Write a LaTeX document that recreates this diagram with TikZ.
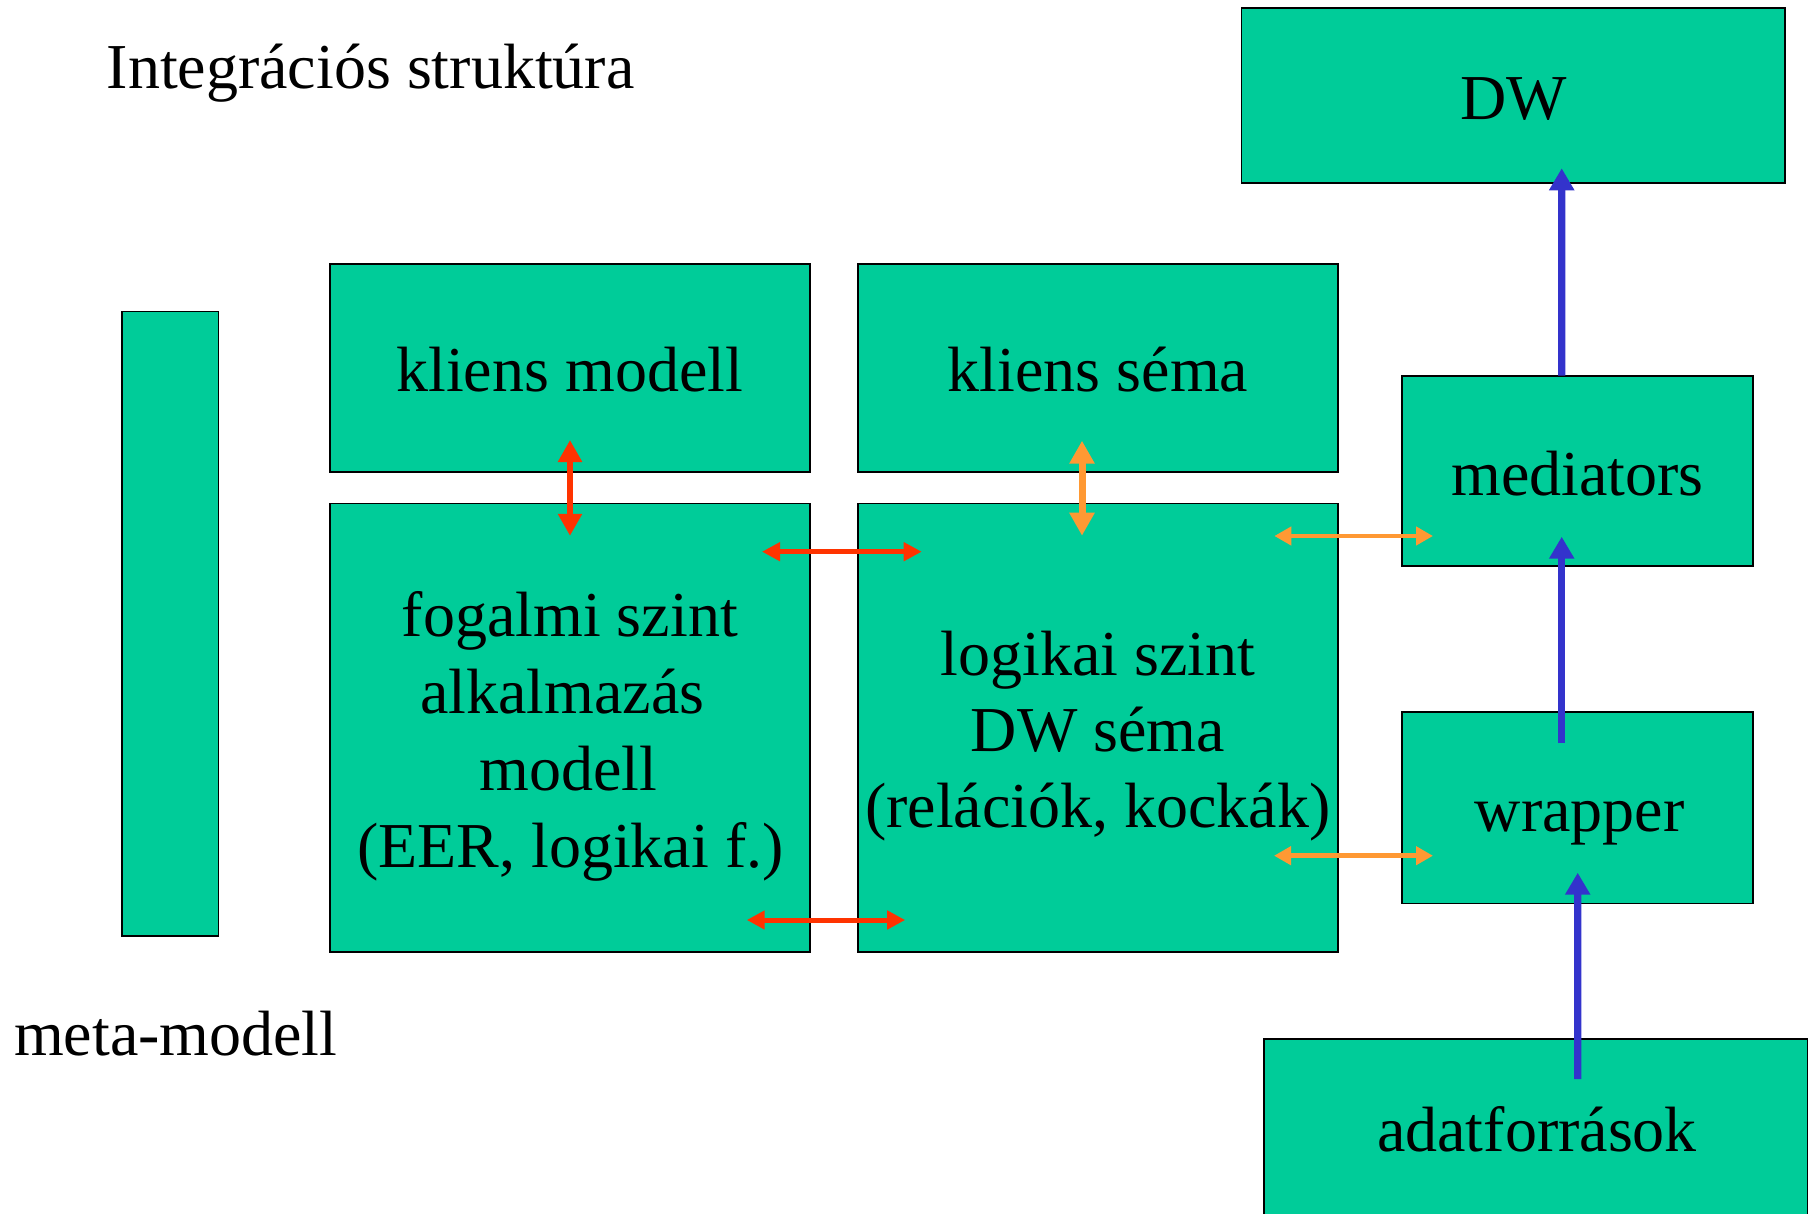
\documentclass[tikz,border=0pt]{standalone}
\usepackage{fontspec}
\setmainfont{Liberation Serif}
\usetikzlibrary{arrows.meta}
\definecolor{boxgreen}{RGB}{0,204,153}
\definecolor{linkred}{RGB}{255,51,0}
\definecolor{linkorange}{RGB}{255,153,51}
\definecolor{linkblue}{RGB}{51,51,204}
\begin{document}
\begin{tikzpicture}[x=1pt,y=-1pt,
  box/.style={draw=black,line width=1.6pt,fill=boxgreen,inner sep=0pt,outer sep=0pt},
  txt/.style={inner sep=0pt,outer sep=0pt,anchor=base,font=\fontsize{64pt}{76.8pt}\selectfont},
  lefttxt/.style={txt,anchor=base west},
  redthin/.style={draw=linkred,line width=5pt,
    arrows={Triangle[length=18pt,width=18pt]-Triangle[length=18pt,width=18pt]}},
  redthick/.style={draw=linkred,line width=6.5pt,
    arrows={Triangle[length=22pt,width=23pt]-Triangle[length=22pt,width=23pt]}},
  orangethick/.style={draw=linkorange,line width=7pt,
    arrows={Triangle[length=23pt,width=24pt]-Triangle[length=23pt,width=24pt]}},
  orangethin/.style={draw=linkorange,line width=4.8pt,
    arrows={Triangle[length=17pt,width=18pt]-Triangle[length=17pt,width=18pt]}},
  bluearrow/.style={draw=linkblue,line width=7.3pt,
    arrows={-Triangle[length=22pt,width=24pt]}}]

\useasboundingbox (0,0) rectangle (1819,1214);

% boxes
\node[box,minimum width=96.6pt,minimum height=624pt]   (meta) at (170,623.7) {};
\node[box,minimum width=479.7pt,minimum height=207.7pt] (km)   at (569.85,367.85) {};
\node[box,minimum width=480.3pt,minimum height=207.7pt] (ks)   at (1097.85,367.85) {};
\node[box,minimum width=479.7pt,minimum height=448.2pt] (fog)  at (569.85,727.6) {};
\node[box,minimum width=480.3pt,minimum height=448.2pt] (log)  at (1097.85,727.6) {};
\node[box,minimum width=543.5pt,minimum height=175.5pt] (dw)   at (1513.25,95.55) {};
\node[box,minimum width=351.3pt,minimum height=190.3pt] (med)  at (1577.35,470.85) {};
\node[box,minimum width=351.3pt,minimum height=191.6pt] (wr)   at (1577.35,807.5) {};
\node[box,minimum width=543.7pt,minimum height=179pt]   (adat) at (1535.55,1128.5) {};

% free texts
\node[lefttxt] (title)   at (106.7,88.3)  {Integrációs struktúra};
\node[lefttxt] (metalbl) at (14,1055.7)   {meta-modell};

% box texts
\node[txt] (km-t)  at (569.7,391.6)  {kliens modell};
\node[txt] (ks-t)  at (1098,391.7)   {kliens séma};
\node[txt] (fog-1) at (569.8,636.8)  {fogalmi szint};
\node[txt] (fog-2) at (562.5,713.6)  {alkalmazás};
\node[txt] (fog-3) at (568.5,790.4)  {modell};
\node[txt] (fog-4) at (570.3,867.2)  {(EER, logikai f.)};
\node[txt] (log-1) at (1097.8,675)   {logikai szint};
\node[txt] (log-2) at (1098,751)     {DW séma};
\node[txt] (log-3) at (1097.8,827.3) {(relációk, kockák)};
\node[txt] (dw-t)  at (1513.6,119.3) {DW};
\node[txt] (med-t) at (1577.5,495)   {mediators};
\node[txt] (wr-t)  at (1579.7,831.7) {wrapper};
\node[txt] (ad-t)  at (1537,1151.7)  {adatforrások};

% two-way links between the model levels
\draw[redthick] ([xshift=0.15pt,yshift=31.7pt]km.south) -- ([xshift=0.15pt,yshift=-32.3pt]fog.north);
\draw[redthin] ([xshift=-47.7pt,yshift=-48.2pt]fog.north east) -- ([xshift=64pt,yshift=-48.2pt]log.north west);
\draw[redthin] ([xshift=-63pt,yshift=31.7pt]fog.south east) -- ([xshift=47.5pt,yshift=31.7pt]log.south west);
\draw[orangethick] ([xshift=-15.85pt,yshift=31pt]ks.south) -- ([xshift=-15.85pt,yshift=-32.2pt]log.north);
\draw[orangethin] ([xshift=-63.7pt,yshift=-32.5pt]log.north east) -- ([xshift=31.3pt,yshift=-65.15pt]med.west);
\draw[orangethin] ([xshift=-64pt,yshift=96pt]log.south east) -- ([xshift=31.3pt,yshift=-48.2pt]wr.west);

% data flow upwards
\draw[bluearrow] ([xshift=-15.65pt]med.north) -- ([xshift=48.45pt,yshift=15pt]dw.south);
\draw[bluearrow] ([xshift=-15.65pt,yshift=-31.6pt]wr.north) -- ([xshift=-15.65pt,yshift=29.3pt]med.south);
\draw[bluearrow] ([xshift=42.15pt,yshift=-40pt]adat.north) -- ([xshift=0.35pt,yshift=30.6pt]wr.south);
\end{tikzpicture}
\end{document}
